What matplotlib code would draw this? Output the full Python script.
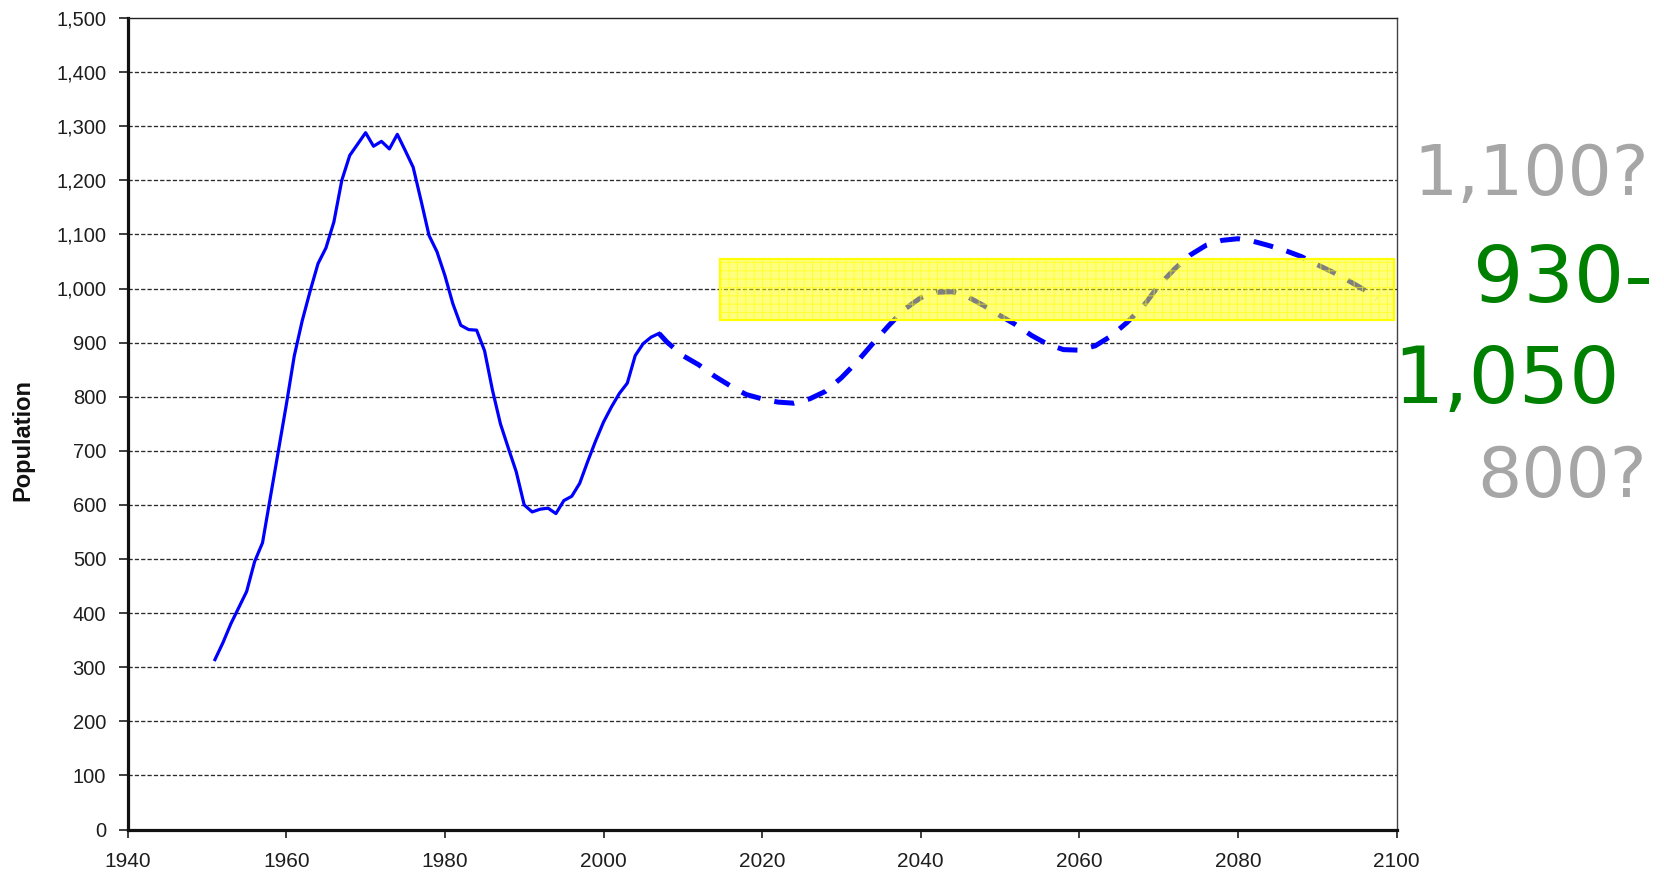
import matplotlib
matplotlib.use("Agg")
import matplotlib.pyplot as plt
from matplotlib.patches import Rectangle
from matplotlib.ticker import FuncFormatter

# ---- data ----
hist_years = [1951, 1952, 1953, 1954, 1955, 1956, 1957, 1958, 1959, 1960,
              1961, 1962, 1963, 1964, 1965, 1966, 1967, 1968, 1969, 1970,
              1971, 1972, 1973, 1974, 1975, 1976, 1977, 1978, 1979, 1980,
              1981, 1982, 1983, 1984, 1985, 1986, 1987, 1988, 1989, 1990,
              1991, 1992, 1993, 1994, 1995, 1996, 1997, 1998, 1999, 2000,
              2001, 2002, 2003, 2004, 2005, 2006, 2007]
hist_pop = [314, 345, 380, 410, 440, 495, 530, 615, 700, 785,
            875, 940, 995, 1046, 1075, 1123, 1200, 1246, 1267, 1288,
            1263, 1272, 1258, 1285, 1255, 1224, 1162, 1098, 1068, 1024,
            972, 932, 924, 923, 885, 812, 750, 705, 661, 600,
            587, 592, 594, 584, 608, 616, 640, 680, 718, 753,
            781, 806, 825, 876, 898, 910, 917]

proj_years = [2007, 2008, 2010, 2012, 2014, 2016, 2018, 2020, 2022, 2024,
              2026, 2028, 2030, 2032, 2034, 2036, 2038, 2040, 2042, 2044,
              2046, 2048, 2050, 2052, 2054, 2056, 2058, 2060, 2062, 2064,
              2066, 2068, 2070, 2072, 2074, 2076, 2078, 2080, 2082, 2084,
              2086, 2088, 2090, 2092, 2094, 2096, 2097.5]
proj_pop = [917, 901, 876, 859, 838, 820, 804, 796, 790, 788,
            796, 810, 835, 865, 899, 932, 962, 983, 993, 994,
            984, 968, 950, 933, 913, 897, 887, 886, 894, 912,
            937, 966, 1005, 1036, 1062, 1080, 1089, 1092, 1087, 1079,
            1070, 1059, 1044, 1030, 1014, 997, 982]

band_years = [2014.7, 2099.7]
band_pop = [941, 1055]

x_ticks = [1940, 1960, 1980, 2000, 2020, 2040, 2060, 2080, 2100]
y_ticks = list(range(0, 1501, 100))

side_labels = ["1,100?", "930-", "1,050", "800?"]

# ---- figure ----
W, H = 1664, 875
fig = plt.figure(figsize=(W / 100, H / 100), dpi=100)
ax = fig.add_axes([127.7 / W, 1 - 829.5 / H, (1396.5 - 127.7) / W, (829.5 - 18) / H])

tick_font = "Liberation Sans"

for y in y_ticks[1:-1]:
    ax.axhline(y, color="#2a2a2a", lw=0.95, linestyle=(0, (3.2, 1.6)), zorder=1)

ax.plot(hist_years, hist_pop, color="#0000ff", lw=2.3, zorder=3,
        solid_joinstyle="round")
ax.plot(proj_years, proj_pop, color="#0000ff", lw=3.6, zorder=3,
        linestyle=(0, (4.0, 2.8)), dash_capstyle="butt")

# yellow band (drawn over the line, semi transparent)
bx, bw = band_years[0], band_years[1] - band_years[0]
by, bh = band_pop[0], band_pop[1] - band_pop[0]
ax.add_patch(Rectangle((bx, by), bw, bh, facecolor=(1, 1, 0, 0.5),
                       edgecolor="none", zorder=4))
plt.rcParams["hatch.linewidth"] = 0.8
ax.add_patch(Rectangle((bx, by), bw, bh, facecolor="none",
                       edgecolor=(1, 1, 0, 0.55), hatch="++", lw=0, zorder=4))
ax.add_patch(Rectangle((bx, by), bw, bh, facecolor="none",
                       edgecolor="#ffff00", lw=1.6, zorder=5))

ax.set_xlim(1940, 2100)
ax.set_ylim(0, 1500)
ax.set_xticks(x_ticks)
ax.set_yticks(y_ticks)
ax.yaxis.set_major_formatter(FuncFormatter(lambda v, p: f"{int(v):,}"))

for lab in ax.get_yticklabels():
    lab.set_fontfamily(tick_font)
    lab.set_fontsize(14.5)
    lab.set_color("#1e1e1e")
for lab in ax.get_xticklabels():
    lab.set_fontfamily(tick_font)
    lab.set_fontsize(15)
    lab.set_color("#1e1e1e")

ax.tick_params(axis="y", direction="out", length=6.5, width=1.2, pad=9,
               colors="#1e1e1e")
ax.tick_params(axis="x", direction="out", length=6, width=1.2, pad=10,
               colors="#1e1e1e")

ax.spines["left"].set_linewidth(2.3)
ax.spines["bottom"].set_linewidth(2.3)
ax.spines["left"].set_color("#111111")
ax.spines["bottom"].set_color("#111111")
ax.spines["top"].set_linewidth(1.0)
ax.spines["top"].set_color("#222222")
ax.spines["right"].set_linewidth(1.0)
ax.spines["right"].set_color("#444444")

fig.text(23 / W, 1 - 440 / H, "Population", rotation=90, ha="center",
         va="center", fontsize=17, fontweight="bold", family=tick_font,
         color="#111111")

gray = "#a6a6a6"
green = "#008000"
specs = [
    (side_labels[0], 1531, 195, gray, 50),
    (side_labels[1], 1563, 302, green, 57),
    (side_labels[2], 1507, 403, green, 57),
    (side_labels[3], 1562, 497, gray, 50),
]
for txt, cx, base, col, fs in specs:
    fig.text(cx / W, 1 - base / H, txt, ha="center", va="baseline",
             fontsize=fs, color=col, family="DejaVu Sans")

fig.savefig("out.png", dpi=100)
